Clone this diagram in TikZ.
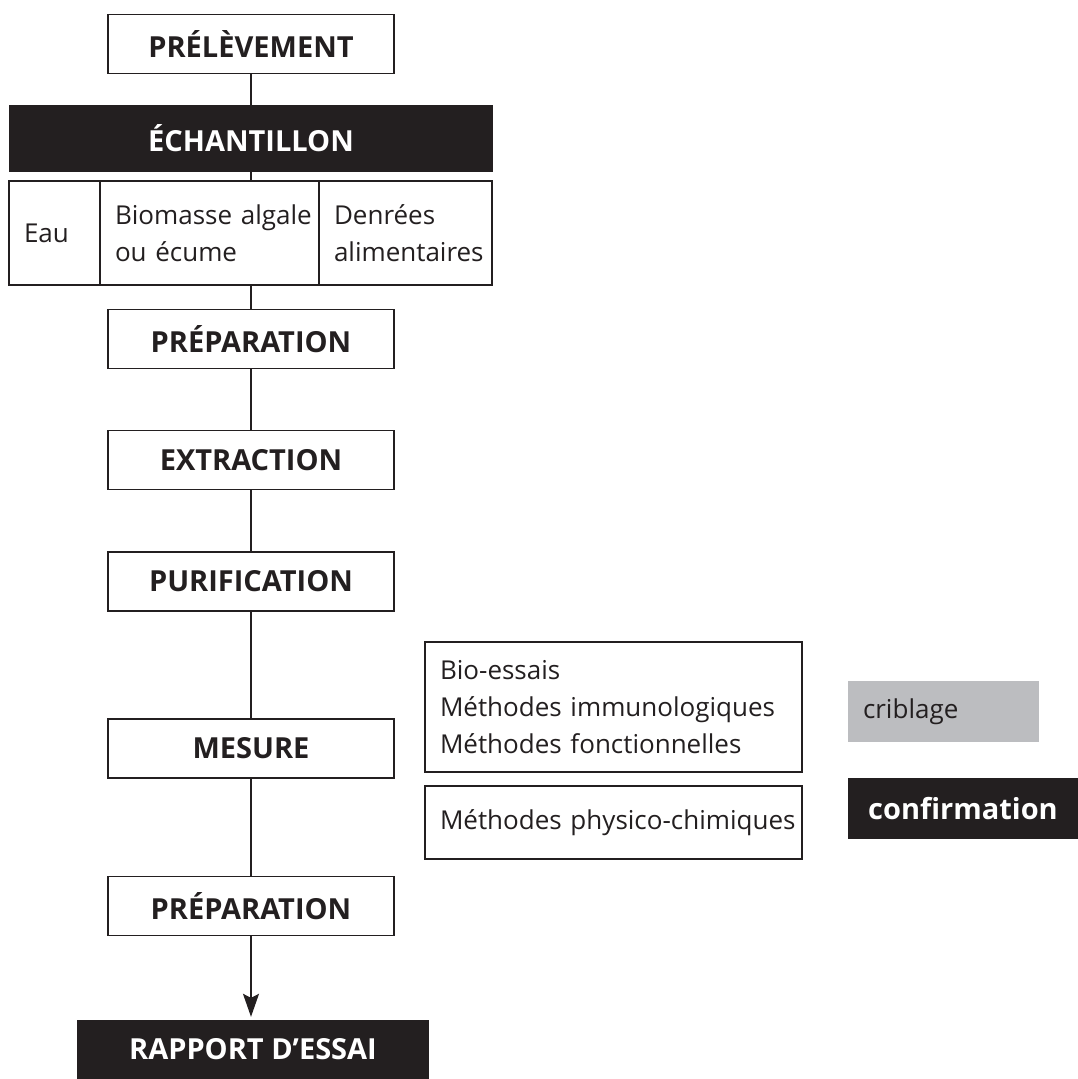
\documentclass[tikz,border=0pt]{standalone}
\usepackage{fontspec}
\setmainfont{Open Sans}
\usetikzlibrary{arrows.meta}
\definecolor{encre}{HTML}{231F20}
\definecolor{gris}{HTML}{BCBDC0}
\tikzset{
  etape/.style={draw=encre,line width=1.5pt,minimum width=286pt,minimum height=59pt,inner sep=0pt,
    text=encre,font=\fontsize{29}{35}\selectfont\bfseries},
  noir/.style={fill=encre,text=white,inner sep=0pt,font=\fontsize{29}{35}\selectfont\bfseries},
  case/.style={draw=encre,line width=1.5pt,inner xsep=15pt,inner ysep=0pt,text width=#1,align=left,
    text=encre,font=\fontsize{26}{37}\selectfont},
  lien/.style={draw=encre,line width=1.5pt}
}
\begin{document}
\begin{tikzpicture}[x=1pt,y=-1pt]
\useasboundingbox (0,0) rectangle (1078,1079);
\node[etape] (prel) at (251,44) {PRÉLÈVEMENT};
\node[noir,minimum width=484pt,minimum height=67pt] (ech) at (251,138.5) {ÉCHANTILLON};
% types d'echantillon
\node[case=61pt,minimum height=104pt] (eau) at (54.5,233) {Eau};
\node[case=189pt,minimum height=104pt] (bio) at (209.5,233) {\mbox{Biomasse algale}\\ou écume};
\node[case=143pt,minimum height=104pt] (denr) at (405.5,233) {Denrées\\\mbox{alimentaires}};
\foreach \nom/\y/\txt in {prep/339/PRÉPARATION,extr/460/EXTRACTION,puri/581.5/PURIFICATION,mes/748.5/MESURE,prepb/906/PRÉPARATION}
{ \node[etape] (\nom) at (251,\y) {\txt};
}
\node[noir,minimum width=352pt,minimum height=59pt] (rapp) at (253,1049.5) {RAPPORT D’ESSAI};
% methodes de mesure
\node[case=347pt,minimum height=130pt] (essais) at (613.5,707) {Bio-essais\\Méthodes immunologiques\\Méthodes fonctionnelles};
\node[case=347pt,minimum height=73pt] (physchim) at (613.5,822.5) {\mbox{Méthodes physico-chimiques}};
\node[case=161pt,draw=none,fill=gris,minimum height=61pt] (crib) at (943.5,711.5) {criblage};
\node[noir,minimum width=230pt,minimum height=61pt] (conf) at (963,808.5) {confirmation};
\draw[lien] (prel)--(ech);
\draw[lien] (ech.south)--(ech.south |- bio.north);
\draw[lien] (prep.north |- bio.south)--(prep);
\foreach \a/\b in {prep/extr,extr/puri,puri/mes,mes/prepb}
{ \draw[lien] (\a)--(\b);
}
\draw[lien,-{Stealth[length=23pt,width=16pt,inset=4pt]},shorten >=3pt] (prepb)--(prepb |- rapp.north);
\end{tikzpicture}
\end{document}
